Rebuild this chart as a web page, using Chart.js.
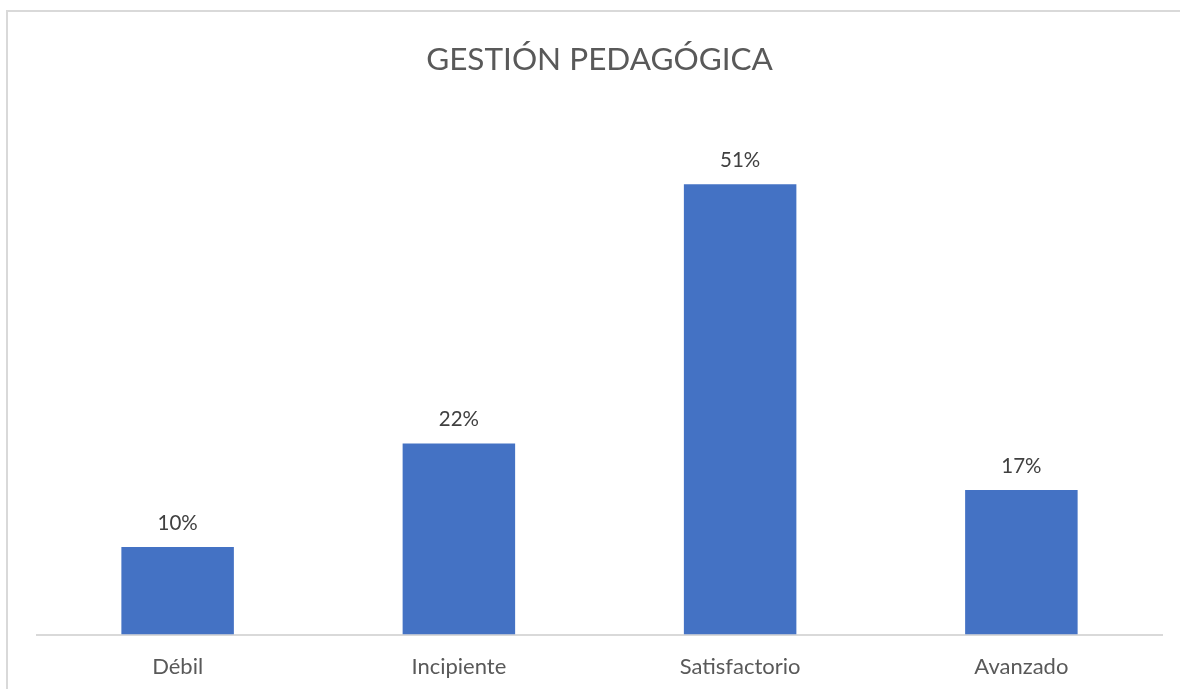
<!DOCTYPE html>
<html>
<head>
<meta charset="utf-8">
<script src="https://cdn.jsdelivr.net/npm/chart.js@4/dist/chart.umd.min.js"></script>
<style>
  html, body { margin: 0; padding: 0; background: #fff; overflow: hidden; }
  #frame {
    position: absolute; left: 6px; top: 10px;
    width: 1300px; height: 800px;
    border: 2px solid #d9d9d9; box-sizing: border-box;
  }
  #wrap { position: absolute; left: 0; top: 0; width: 1180px; height: 710px; }
</style>
</head>
<body>
<div id="frame"></div>
<div id="wrap"><canvas id="grafico"></canvas></div>
<script>
const categorias = ['Débil', 'Incipiente', 'Satisfactorio', 'Avanzado']
const porcentajes = [10.0, 21.8, 51.4, 16.5]
const ejeMax = 60

// etiquetas de valor encima de cada barra
const etiquetasValor = {
    id: 'etiquetasValor',
    afterDatasetsDraw(chart) {
        const ctx = chart.ctx
        const meta = chart.getDatasetMeta(0)
        ctx.save()
        ctx.font = '20.5px Lato'
        ctx.fillStyle = '#404040'
        ctx.textAlign = 'center'
        ctx.textBaseline = 'middle'
        meta.data.forEach((bar, i) => {
            ctx.fillText(Math.round(porcentajes[i]) + '%', bar.x, bar.y - 24)
        })
        ctx.restore()
    }
}

new Chart(document.getElementById('grafico'), {
    type: 'bar',
    data: {
        labels: categorias,
        datasets: [{
            data: porcentajes,
            backgroundColor: '#4472C4',
            barPercentage: 0.4,
            categoryPercentage: 1
        }]
    },
    options: {
        responsive: true,
        maintainAspectRatio: false,
        animation: false,
        layout: { padding: { left: 37, right: 18, top: 0, bottom: 11 } },
        plugins: {
            legend: { display: false },
            tooltip: { enabled: false },
            title: {
                display: true,
                text: 'GESTIÓN PEDAGÓGICA',
                color: '#595959',
                font: { family: 'Lato', size: 31.5, weight: 'normal' },
                padding: { top: 41, bottom: 30 }
            }
        },
        scales: {
            x: {
                grid: { display: false, drawTicks: false },
                border: { display: true, color: '#d9d9d9', width: 2 },
                ticks: {
                    color: '#595959',
                    font: { family: 'Lato', size: 22 },
                    padding: 19
                }
            },
            y: {
                display: false,
                min: 0,
                max: ejeMax
            }
        }
    },
    plugins: [etiquetasValor]
})
</script>
</body>
</html>
